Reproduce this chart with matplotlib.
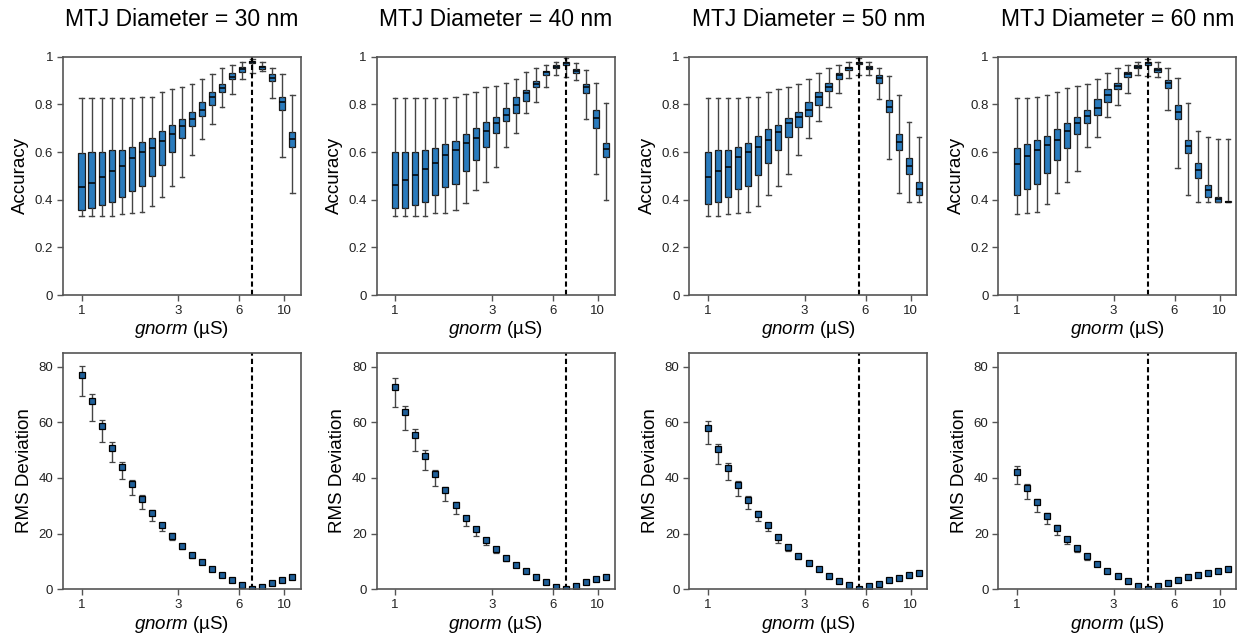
import matplotlib
matplotlib.use("Agg")
import matplotlib.pyplot as plt
import numpy as np

plt.rcParams['font.family'] = ['Liberation Sans', 'DejaVu Sans']
plt.rcParams['mathtext.fontset'] = 'custom'
plt.rcParams['mathtext.it'] = 'Liberation Sans:italic'
plt.rcParams['mathtext.rm'] = 'Liberation Sans'

# g_norm sweep (uS)
g = [1.0, 1.12, 1.26, 1.41, 1.58, 1.77, 1.99, 2.23, 2.50, 2.80, 3.14,
     3.52, 3.94, 4.42, 4.95, 5.55, 6.22, 6.97, 7.81, 8.75, 9.80, 10.98]

diameters = [30, 40, 50, 60]
g_opt = [6.97, 6.97, 5.55, 4.42]

# accuracy box stats, 30 nm
hi_30 = [.825, .825, .825, .825, .825, .825, .83, .83, .85, .863, .871, .884, .905, .926, .951, .965, .979, .989, .979, .954, .926, .839]
q3_30 = [.594, .60, .60, .608, .608, .622, .641, .66, .69, .713, .738, .769, .808, .85, .885, .93, .958, .983, .962, .926, .829, .683]
med_30 = [.455, .469, .494, .522, .541, .573, .601, .615, .648, .674, .709, .738, .776, .832, .867, .913, .948, .979, .955, .912, .811, .653]
q1_30 = [.357, .366, .378, .392, .41, .438, .459, .5, .544, .601, .657, .709, .751, .797, .853, .905, .937, .972, .950, .898, .776, .62]
lo_30 = [.331, .331, .331, .331, .34, .345, .35, .373, .413, .459, .494, .587, .655, .716, .79, .842, .905, .93, .94, .825, .58, .43]

# 40 nm
hi_40 = [.825, .825, .825, .825, .825, .825, .83, .843, .85, .871, .878, .89, .905, .937, .951, .965, .979, .993, .972, .944, .89, .804]
q3_40 = [.60, .60, .60, .608, .615, .634, .648, .674, .70, .727, .748, .783, .829, .86, .898, .941, .965, .979, .947, .884, .776, .636]
med_40 = [.46, .483, .503, .527, .555, .587, .608, .636, .657, .69, .72, .755, .797, .846, .885, .934, .958, .972, .941, .871, .741, .613]
q1_40 = [.364, .364, .378, .392, .42, .455, .466, .52, .566, .622, .681, .73, .762, .815, .871, .923, .951, .965, .933, .849, .699, .58]
lo_40 = [.331, .331, .331, .331, .345, .345, .357, .385, .44, .476, .538, .622, .681, .762, .808, .871, .923, .913, .902, .737, .506, .399]

# 50 nm
hi_50 = [.825, .825, .825, .825, .83, .83, .85, .863, .871, .884, .905, .93, .951, .965, .979, .993, .979, .951, .919, .839, .727, .662]
q3_50 = [.60, .608, .608, .622, .639, .668, .695, .713, .741, .769, .808, .853, .888, .93, .958, .979, .961, .923, .818, .674, .573, .476]
med_50 = [.494, .522, .538, .58, .601, .622, .65, .685, .72, .748, .776, .832, .871, .923, .951, .975, .952, .909, .79, .643, .541, .443]
q1_50 = [.38, .392, .41, .445, .459, .503, .555, .608, .662, .706, .751, .797, .857, .905, .944, .969, .947, .891, .769, .608, .506, .42]
lo_50 = [.331, .331, .34, .345, .35, .373, .42, .459, .506, .587, .657, .731, .79, .849, .909, .923, .923, .822, .569, .43, .392, .392]

# 60 nm
hi_60 = [.825, .825, .832, .839, .85, .87, .878, .885, .905, .93, .951, .965, .979, .989, .979, .951, .909, .804, .69, .662, .653, .655]
q3_60 = [.615, .632, .65, .668, .695, .72, .748, .776, .822, .863, .888, .934, .965, .978, .951, .902, .797, .65, .552, .462, .413, .394]
med_60 = [.55, .583, .608, .629, .65, .69, .723, .751, .783, .839, .878, .926, .958, .972, .944, .888, .769, .625, .524, .441, .401, .392]
q1_60 = [.42, .445, .464, .513, .566, .615, .674, .723, .755, .811, .864, .913, .951, .966, .937, .87, .737, .594, .49, .413, .392, .391]
lo_60 = [.338, .343, .35, .38, .427, .476, .52, .622, .662, .748, .797, .849, .923, .919, .916, .776, .531, .42, .392, .392, .389, .390]

# RMS deviation: centre, upper and lower error limits
rms_30 = [77.0, 67.5, 58.6, 50.9, 43.9, 37.9, 32.4, 27.5, 23.0, 19.2, 15.6, 12.3, 9.7, 7.3, 5.1, 3.3, 1.6, 0.1, 1.0, 2.1, 3.3, 4.3]
top_30 = [80.4, 70.2, 61.0, 52.9, 45.7, 39.3, 33.8, 28.4, 23.9, 20.1, 16.4, 13.0, 10.3, 7.7, 5.4, 3.5, 1.7, 0.2, 1.1, 2.2, 3.4, 4.5]
bot_30 = [69.3, 60.4, 52.8, 45.7, 39.6, 34.0, 29.0, 24.6, 20.8, 17.7, 14.4, 11.3, 9.0, 6.8, 4.8, 3.1, 1.5, 0.05, 0.9, 2.0, 3.2, 4.2]

rms_40 = [72.8, 63.6, 55.3, 47.9, 41.3, 35.6, 30.2, 25.7, 21.5, 17.8, 14.3, 11.3, 8.7, 6.4, 4.4, 2.5, 1.0, 0.1, 1.3, 2.6, 3.7, 4.5]
top_40 = [75.8, 66.0, 57.6, 49.9, 43.0, 36.9, 31.3, 26.5, 22.2, 18.4, 14.8, 11.7, 9.0, 6.7, 4.6, 2.6, 1.1, 0.2, 1.4, 2.7, 3.8, 4.7]
bot_40 = [65.4, 57.3, 49.7, 43.0, 37.0, 31.8, 27.2, 22.9, 19.2, 16.0, 12.9, 10.3, 8.1, 6.0, 4.1, 2.3, 0.9, 0.05, 1.2, 2.5, 3.6, 4.4]

rms_50 = [58.0, 50.5, 43.6, 37.4, 32.0, 27.2, 23.0, 18.9, 15.3, 12.1, 9.6, 7.2, 4.9, 3.1, 1.4, 0.1, 1.1, 2.0, 3.3, 4.2, 5.0, 5.9]
top_50 = [60.4, 52.3, 45.4, 38.9, 33.4, 28.2, 23.9, 19.6, 16.0, 12.6, 10.0, 7.5, 5.1, 3.2, 1.5, 0.2, 1.2, 2.1, 3.4, 4.4, 5.2, 6.1]
bot_50 = [52.3, 45.1, 39.2, 33.6, 28.7, 24.5, 20.8, 16.8, 13.8, 11.0, 8.9, 6.7, 4.6, 2.9, 1.3, 0.05, 1.0, 1.9, 3.2, 4.1, 4.9, 5.7]

rms_60 = [42.1, 36.4, 31.2, 26.3, 22.2, 18.1, 14.9, 11.8, 9.0, 6.7, 4.7, 2.9, 1.3, 0.1, 1.3, 2.1, 3.3, 4.3, 5.1, 6.0, 6.7, 7.3]
top_60 = [44.2, 37.7, 32.5, 27.5, 23.2, 18.9, 15.6, 12.3, 9.4, 7.0, 4.9, 3.0, 1.4, 0.2, 1.4, 2.2, 3.4, 4.4, 5.3, 6.2, 6.9, 7.6]
bot_60 = [37.7, 32.6, 27.7, 23.4, 19.6, 16.2, 13.3, 10.7, 8.3, 6.3, 4.4, 2.7, 1.2, 0.05, 1.2, 2.0, 3.2, 4.2, 5.0, 5.8, 6.5, 7.1]

boxes = [(hi_30, q3_30, med_30, q1_30, lo_30),
         (hi_40, q3_40, med_40, q1_40, lo_40),
         (hi_50, q3_50, med_50, q1_50, lo_50),
         (hi_60, q3_60, med_60, q1_60, lo_60)]
rms = [(rms_30, top_30, bot_30), (rms_40, top_40, bot_40),
       (rms_50, top_50, bot_50), (rms_60, top_60, bot_60)]

blue = '#2a7bbd'
spine_c = '#555555'
W, H = 1250, 641
lefts = [63, 376.5, 689.3, 998.3]
aw = 238

fig = plt.figure(figsize=(12.5, 6.41), dpi=100)
gpos = np.array(g)


def style(ax):
    ax.set_xscale('log')
    ax.set_xlim(0.81, 12.1)
    ax.set_xticks([1, 3, 6, 10])
    ax.set_xticklabels(['1', '3', '6', '10'])
    ax.xaxis.set_minor_locator(matplotlib.ticker.NullLocator())
    ax.tick_params(direction='out', length=4, width=1, color=spine_c,
                   labelsize=9.5, labelcolor='#222222', pad=3)
    for s in ax.spines.values():
        s.set_color(spine_c)
        s.set_linewidth(1.2)
    ax.set_xlabel(r'$\mathit{gnorm}$ (µS)', fontsize=13.5, labelpad=2)


for i in range(4):
    hi, q3, med, q1, lo = boxes[i]
    x0 = lefts[i] / W
    # accuracy row
    ax = fig.add_axes([x0, 1 - 295 / H, aw / W, 238.3 / H])
    stats = [dict(med=med[k], q1=q1[k], q3=q3[k], whislo=lo[k], whishi=hi[k], fliers=[])
             for k in range(len(g))]
    ax.bxp(stats, positions=gpos, widths=0.07 * gpos, capwidths=0.05 * gpos,
           patch_artist=True, manage_ticks=False,
           boxprops=dict(facecolor=blue, edgecolor='#1a1a1a', linewidth=0.9),
           medianprops=dict(color='black', linewidth=1.1),
           whiskerprops=dict(color='#444444', linewidth=1.0),
           capprops=dict(color='#444444', linewidth=1.0))
    ax.axvline(g_opt[i], color='black', linestyle='--', linewidth=1.5, dashes=(2.5, 1.5))
    style(ax)
    ax.set_ylim(0, 1)
    ax.set_yticks([0, 0.2, 0.4, 0.6, 0.8, 1])
    ax.set_yticklabels(['0', '0.2', '0.4', '0.6', '0.8', '1'])
    ax.set_ylabel('Accuracy', fontsize=13.5, labelpad=4)

    fig.text(x0 + aw / W / 2, 1 - 19 / H, f'MTJ Diameter = {diameters[i]} nm',
             ha='center', va='center', fontsize=16.5)

    # RMS deviation row
    r, top, bot = rms[i]
    r = np.array(r)
    yerr = [r - np.array(bot), np.array(top) - r]
    ax2 = fig.add_axes([x0, 1 - 589.3 / H, aw / W, 236.6 / H])
    ax2.errorbar(gpos, r, yerr=yerr, fmt='s', ms=4, mfc='#1f5f99', mec='black',
                 mew=0.9, ecolor='#444444', elinewidth=1.0, capsize=2.5, capthick=1.0)
    ax2.axvline(g_opt[i], color='black', linestyle='--', linewidth=1.5, dashes=(2.5, 1.5))
    style(ax2)
    ax2.set_ylim(0, 85)
    ax2.set_yticks([0, 20, 40, 60, 80])
    ax2.set_ylabel('RMS Deviation', fontsize=13.5, labelpad=4)

fig.savefig('out.png', dpi=100)
